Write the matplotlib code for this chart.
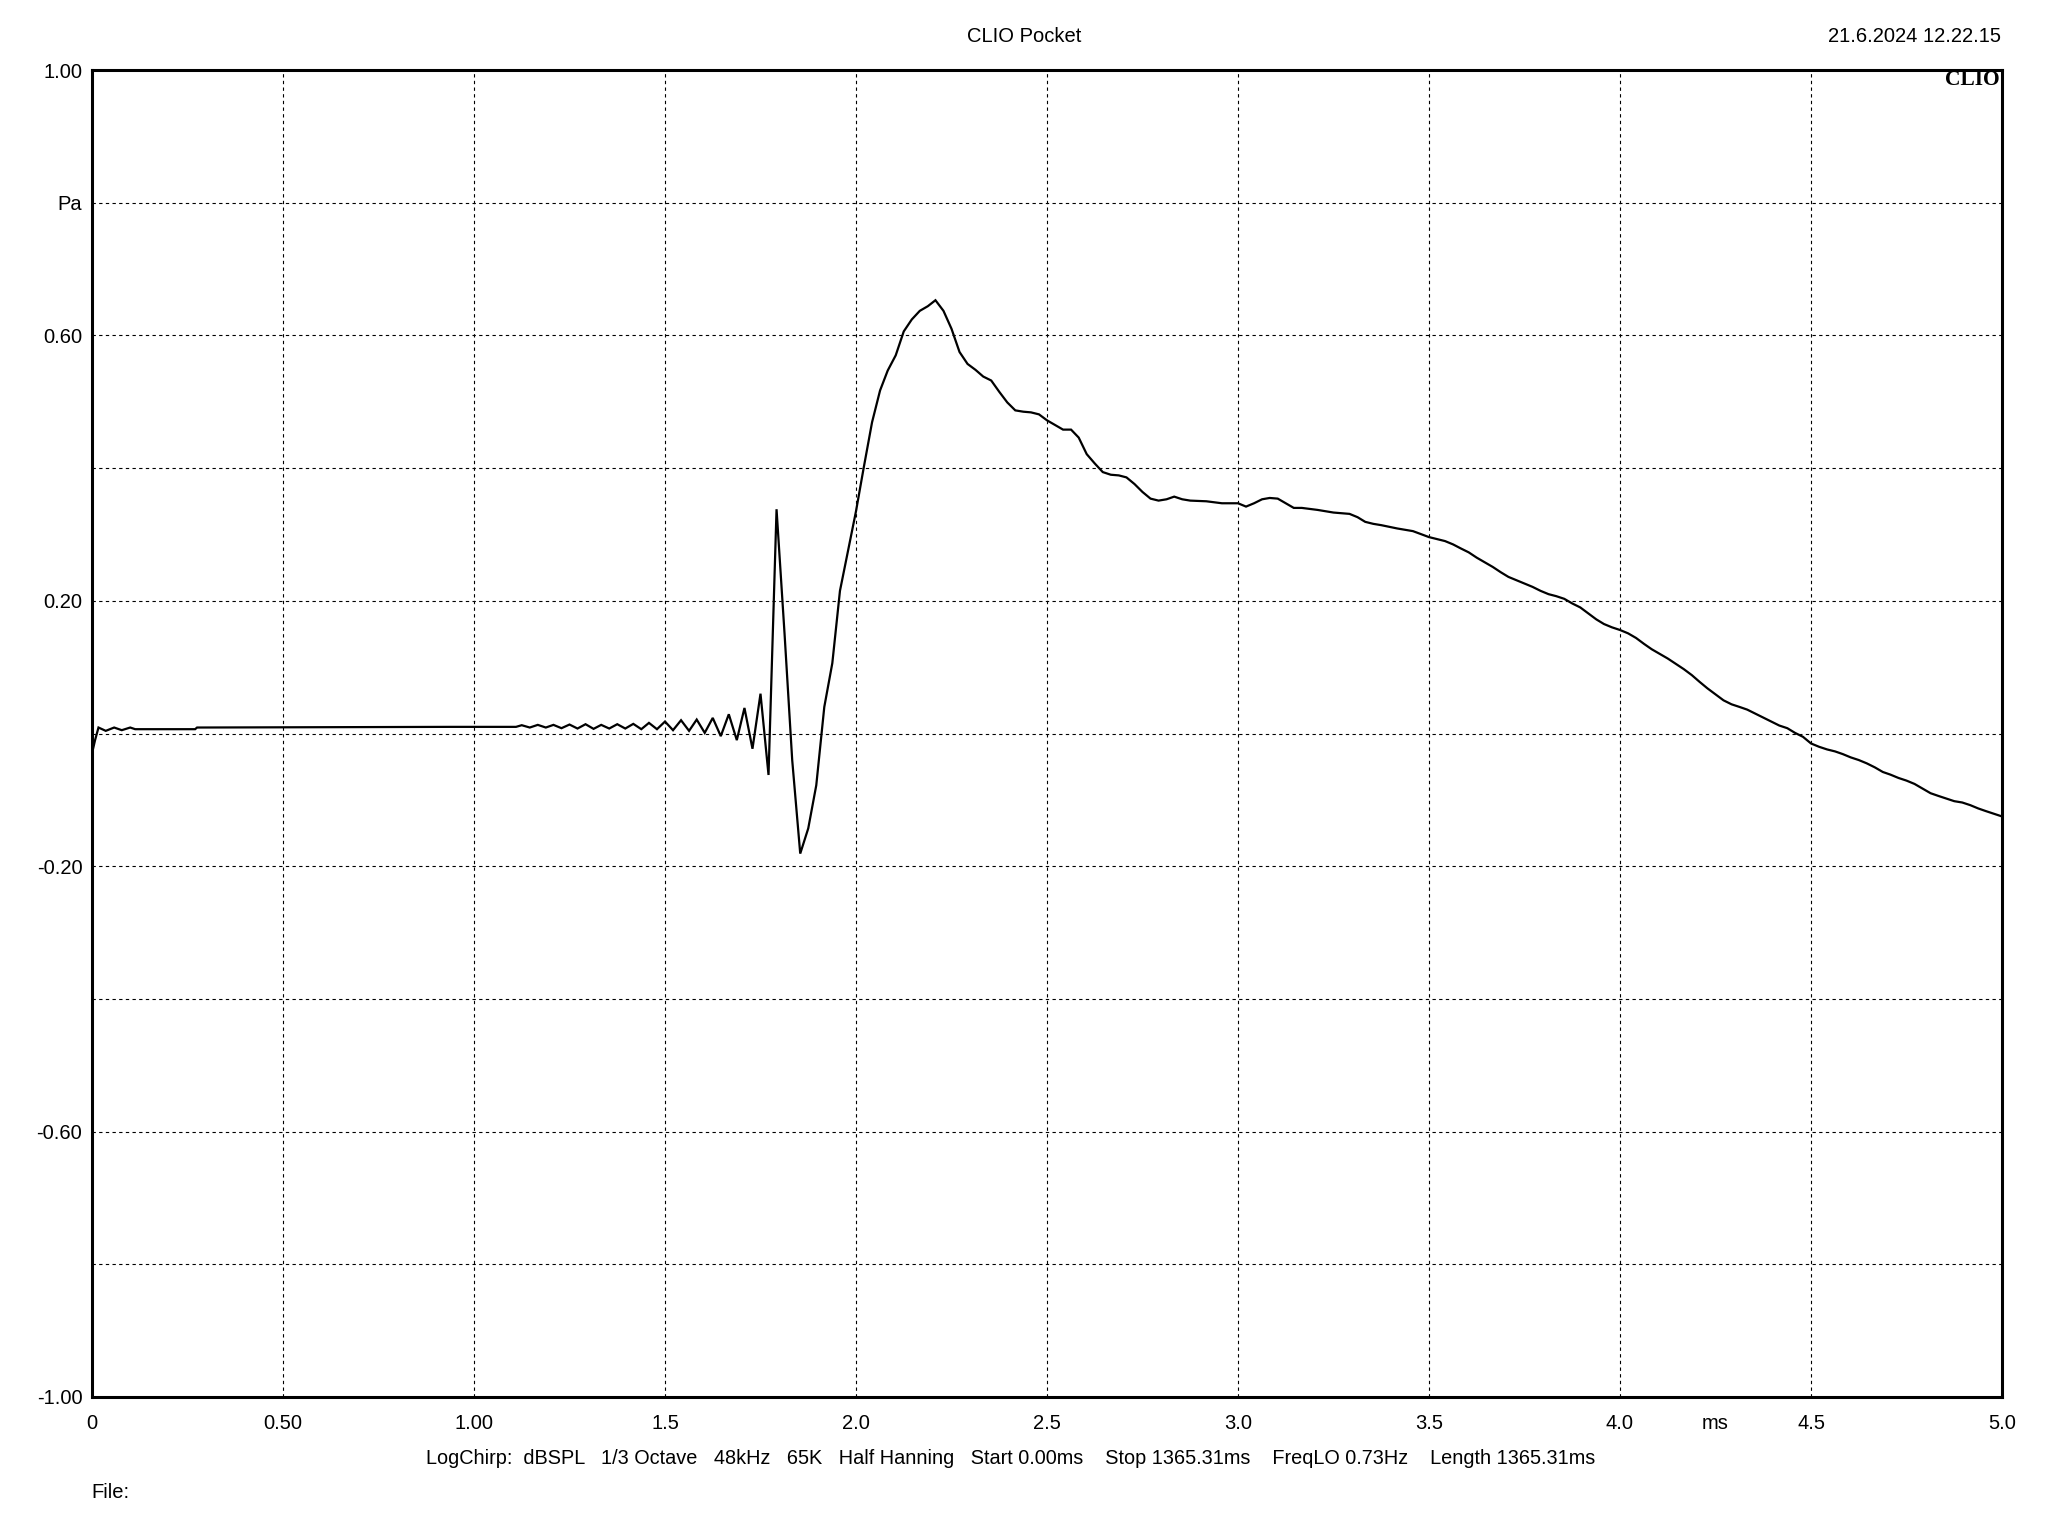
import matplotlib
matplotlib.use("Agg")
import matplotlib.pyplot as plt

# ---------------- data ----------------
time_ms = [
    0.000, 0.008, 0.017, 0.036, 0.058, 0.078, 0.100, 0.113, 0.270, 0.275,
    0.940, 1.110,
    1.125, 1.146, 1.167, 1.188, 1.208, 1.229, 1.250, 1.271, 1.292, 1.313,
    1.333, 1.354, 1.375, 1.396, 1.417, 1.438, 1.458, 1.479, 1.500, 1.521,
    1.542, 1.563, 1.583, 1.604, 1.625, 1.646, 1.667, 1.688, 1.708, 1.729,
    1.750, 1.771, 1.792, 1.813, 1.833, 1.854, 1.875, 1.896, 1.917, 1.938,
    1.958, 1.979, 2.000, 2.020, 2.042, 2.063, 2.083, 2.104, 2.125, 2.146,
    2.167, 2.188, 2.208, 2.229, 2.250, 2.271, 2.292, 2.313, 2.333, 2.354,
    2.375, 2.396, 2.417, 2.438, 2.458, 2.479, 2.500, 2.521, 2.542, 2.563,
    2.583, 2.604, 2.625, 2.646, 2.667, 2.688, 2.708, 2.729, 2.750, 2.771,
    2.792, 2.813, 2.833, 2.854, 2.875, 2.917, 2.958, 3.000, 3.021, 3.042,
    3.063, 3.083, 3.104, 3.125, 3.146, 3.167, 3.208, 3.250, 3.292, 3.313,
    3.333, 3.354, 3.375, 3.417, 3.458, 3.500, 3.542, 3.563, 3.583, 3.604,
    3.625, 3.646, 3.667, 3.688, 3.708, 3.729, 3.750, 3.771, 3.792, 3.813,
    3.833, 3.854, 3.875, 3.896, 3.917, 3.938, 3.958, 3.979, 4.000, 4.021,
    4.042, 4.063, 4.083, 4.104, 4.125, 4.146, 4.167, 4.188, 4.208, 4.229,
    4.250, 4.271, 4.292, 4.313, 4.333, 4.354, 4.375, 4.396, 4.417, 4.438,
    4.458, 4.479, 4.500, 4.521, 4.542, 4.563, 4.583, 4.604, 4.625, 4.646,
    4.667, 4.688, 4.708, 4.729, 4.750, 4.771, 4.792, 4.813, 4.833, 4.854,
    4.875, 4.896, 4.917, 4.938, 4.958, 4.979, 5.000,
]
pressure_pa = [
    -0.030, -0.010, 0.009, 0.004, 0.009, 0.005, 0.009, 0.0065, 0.0065, 0.009,
    0.010, 0.010,
    0.0125, 0.009, 0.013, 0.009, 0.013, 0.008, 0.0135, 0.0075, 0.014, 0.007,
    0.013, 0.0075, 0.014, 0.0075, 0.0145, 0.0065, 0.016, 0.0065, 0.018, 0.005,
    0.020, 0.004, 0.021, 0.001, 0.0235, -0.004, 0.029, -0.010, 0.0385, -0.023,
    0.060, -0.0625, 0.338, 0.150, -0.040, -0.181, -0.143, -0.078, 0.040, 0.106,
    0.215, 0.275, 0.335, 0.400, 0.469, 0.517, 0.547, 0.570, 0.606, 0.624,
    0.637, 0.644, 0.653, 0.637, 0.610, 0.575, 0.557, 0.548, 0.538, 0.532,
    0.515, 0.499, 0.487, 0.485, 0.484, 0.481, 0.472, 0.465, 0.458, 0.458,
    0.446, 0.421, 0.407, 0.394, 0.390, 0.389, 0.386, 0.376, 0.364, 0.354,
    0.351, 0.353, 0.357, 0.353, 0.351, 0.350, 0.347, 0.347, 0.342, 0.347,
    0.353, 0.355, 0.354, 0.347, 0.340, 0.340, 0.337, 0.333, 0.331, 0.326,
    0.319, 0.316, 0.314, 0.309, 0.305, 0.296, 0.290, 0.285, 0.279, 0.273,
    0.265, 0.258, 0.251, 0.243, 0.236, 0.231, 0.226, 0.221, 0.215, 0.210,
    0.207, 0.203, 0.196, 0.190, 0.181, 0.172, 0.165, 0.160, 0.156, 0.151,
    0.144, 0.135, 0.127, 0.120, 0.113, 0.105, 0.097, 0.088, 0.078, 0.068,
    0.059, 0.050, 0.044, 0.040, 0.036, 0.030, 0.024, 0.018, 0.012, 0.008,
    0.001, -0.005, -0.015, -0.020, -0.024, -0.027, -0.031, -0.036, -0.040, -0.045,
    -0.051, -0.058, -0.062, -0.067, -0.071, -0.076, -0.083, -0.090, -0.094, -0.098,
    -0.102, -0.104, -0.108, -0.113, -0.117, -0.121, -0.125,
]

x_ticks = [0, 0.5, 1.0, 1.5, 2.0, 2.5, 3.0, 3.5, 4.0, 4.25, 4.5, 5.0]
x_tick_labels = ["0", "0.50", "1.00", "1.5", "2.0", "2.5", "3.0", "3.5", "4.0", "ms", "4.5", "5.0"]
x_grid = [0.5, 1.0, 1.5, 2.0, 2.5, 3.0, 3.5, 4.0, 4.5]
y_ticks = [1.0, 0.8, 0.6, 0.4, 0.2, 0.0, -0.2, -0.4, -0.6, -0.8, -1.0]
y_tick_labels = ["1.00", "Pa", "0.60", "", "0.20", "", "-0.20", "", "-0.60", "", "-1.00"]

title_text = "CLIO Pocket"
date_text = "21.6.2024 12.22.15"
params_text = ("LogChirp:  dBSPL   1/3 Octave   48kHz   65K   Half Hanning   "
               "Start 0.00ms    Stop 1365.31ms    FreqLO 0.73Hz    Length 1365.31ms")
file_text = "File:"

# ---------------- figure ----------------
W, H = 2048, 1536
FS = 14.5
plt.rcParams["font.family"] = ["Liberation Sans", "DejaVu Sans"]
fig = plt.figure(figsize=(W / 100, H / 100), dpi=100)
L, R, T, B = 92, 2002, 70, 1397
ax = fig.add_axes([L / W, 1 - B / H, (R - L) / W, (B - T) / H])

ax.plot(time_ms, pressure_pa, color="black", linewidth=1.6, solid_joinstyle="miter")

ax.set_xlim(0, 5.0)
ax.set_ylim(-1.0, 1.0)

# grid lines
for gx in x_grid:
    ax.axvline(gx, color="black", linewidth=0.8, linestyle=(0, (3, 3)), zorder=0)
for gy in y_ticks[1:-1]:
    ax.axhline(gy, color="black", linewidth=0.8, linestyle=(0, (3, 3)), zorder=0)

ax.set_xticks(x_ticks)
ax.set_xticklabels(x_tick_labels)
ax.set_yticks(y_ticks)
ax.set_yticklabels(y_tick_labels)
ax.tick_params(axis="both", length=0, labelsize=FS, colors="black")
ax.tick_params(axis="x", pad=12)
ax.tick_params(axis="y", pad=7)

for sp in ax.spines.values():
    sp.set_linewidth(2.2)
    sp.set_color("black")

fig.text(0.5, 1 - 36 / H, title_text, ha="center", va="center", fontsize=FS)
fig.text(2001 / W, 1 - 36 / H, date_text, ha="right", va="center", fontsize=FS)
fig.text(2000 / W, 1 - 80 / H, "CLIO", ha="right", va="center", fontsize=15.5,
         family=["Liberation Serif", "DejaVu Serif"], fontweight="bold")
fig.text(426 / W, 1 - 1458 / H, params_text, ha="left", va="center", fontsize=14.3)
fig.text(91 / W, 1 - 1492 / H, file_text, ha="left", va="center", fontsize=FS)

fig.savefig("out.png", dpi=100, facecolor="white")
